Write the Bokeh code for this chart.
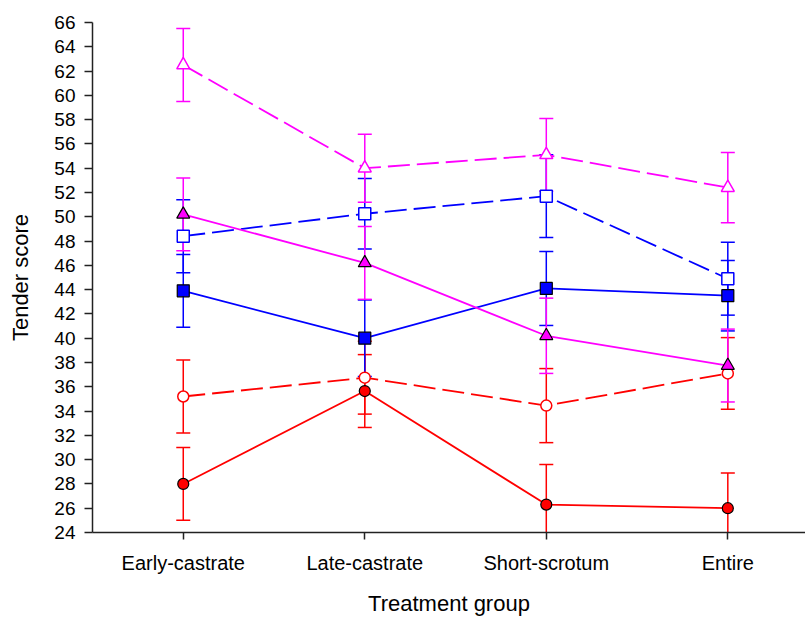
from bokeh.plotting import figure
from bokeh.models import FixedTicker, Range1d
from bokeh.embed import file_html
from bokeh.resources import INLINE

categories = ["Early-castrate", "Late-castrate", "Short-scrotum", "Entire"]

red_filled = [28.0, 35.65, 26.3, 26.0]
red_filled_err = [3.0, 3.0, 3.3, 2.9]
red_open = [35.2, 36.75, 34.45, 37.1]
red_open_err = [3.0, 3.0, 3.05, 2.95]
blue_filled = [43.9, 40.0, 44.1, 43.5]
blue_filled_err = [3.0, 3.15, 3.05, 2.9]
blue_open = [48.4, 50.25, 51.7, 44.9]
blue_open_err = [3.0, 2.9, 3.4, 3.0]
mag_filled = [50.2, 46.2, 40.2, 37.75]
mag_filled_err = [3.0, 3.0, 3.1, 3.0]
mag_open = [62.5, 54.0, 55.1, 52.4]
mag_open_err = [3.0, 2.8, 3.0, 2.9]

y_ticks = list(range(24, 67, 2))

RED, BLUE, MAG = "#FF0000", "#0000FF", "#FF00FF"
FONT = "Liberation Sans"

series = [
    # values, errors, color, marker, filled, dashed
    (red_filled, red_filled_err, RED, "circle", True, False),
    (red_open, red_open_err, RED, "circle", False, True),
    (blue_filled, blue_filled_err, BLUE, "square", True, False),
    (blue_open, blue_open_err, BLUE, "square", False, True),
    (mag_filled, mag_filled_err, MAG, "triangle", True, False),
    (mag_open, mag_open_err, MAG, "triangle", False, True),
]

xs = [i + 0.5 for i in range(len(categories))]

p = figure(width=805, height=618, output_backend="svg", toolbar_location=None,
           x_range=Range1d(0, 3.928), y_range=Range1d(24, 66),
           min_border_left=92, min_border_right=0, min_border_top=22,
           min_border_bottom=86)
p.outline_line_color = None
p.grid.visible = False
p.background_fill_color = "white"
p.border_fill_color = "white"

# error bars
for vals, errs, color, marker, filled, dashed in series:
    lo = [v - e for v, e in zip(vals, errs)]
    hi = [v + e for v, e in zip(vals, errs)]
    p.segment(x0=xs, y0=lo, x1=xs, y1=hi, line_color=color, line_width=1.5)
    p.scatter(x=xs, y=lo, marker="dash", size=14, line_color=color, line_width=1.5)
    p.scatter(x=xs, y=hi, marker="dash", size=14, line_color=color, line_width=1.5)

# lines
for vals, errs, color, marker, filled, dashed in series:
    p.line(x=xs, y=vals, line_color=color, line_width=1.8,
           line_dash="22 7" if dashed else "solid")

# markers
for vals, errs, color, marker, filled, dashed in series:
    size = 11 if marker == "circle" else (12 if marker == "square" else 13)
    if filled:
        p.scatter(x=xs, y=vals, marker=marker, size=size, fill_color=color,
                  line_color="black", line_width=1.2)
    else:
        p.scatter(x=xs, y=vals, marker=marker, size=size, fill_color="white",
                  line_color=color, line_width=1.5)

# axes
p.xaxis.ticker = FixedTicker(ticks=xs)
p.xaxis.major_label_overrides = {x: c for x, c in zip(xs, categories)}
p.xaxis.minor_tick_line_color = None
p.xaxis.major_tick_in = 0
p.xaxis.major_tick_out = 7
p.xaxis.major_label_standoff = 12
p.xaxis.axis_label = "Treatment group"
p.xaxis.axis_label_standoff = 14

p.yaxis.ticker = FixedTicker(ticks=y_ticks)
p.yaxis.minor_tick_line_color = None
p.yaxis.major_tick_in = 0
p.yaxis.major_tick_out = 8
p.yaxis.major_label_standoff = 9
p.yaxis.axis_label = "Tender score"
p.yaxis.axis_label_standoff = 18

for ax in (p.xaxis, p.yaxis):
    ax.axis_line_color = "#222222"
    ax.axis_line_width = 1.5
    ax.major_tick_line_color = "#222222"
    ax.major_tick_line_width = 1.5
    ax.major_label_text_font = FONT
    ax.major_label_text_color = "black"
    ax.axis_label_text_font = FONT
    ax.axis_label_text_font_style = "normal"
    ax.axis_label_text_color = "black"
    ax.axis_label_text_font_size = "22px"

p.xaxis.major_label_text_font_size = "20px"
p.yaxis.major_label_text_font_size = "19px"

open("out.html", "w").write(file_html(p, INLINE))
